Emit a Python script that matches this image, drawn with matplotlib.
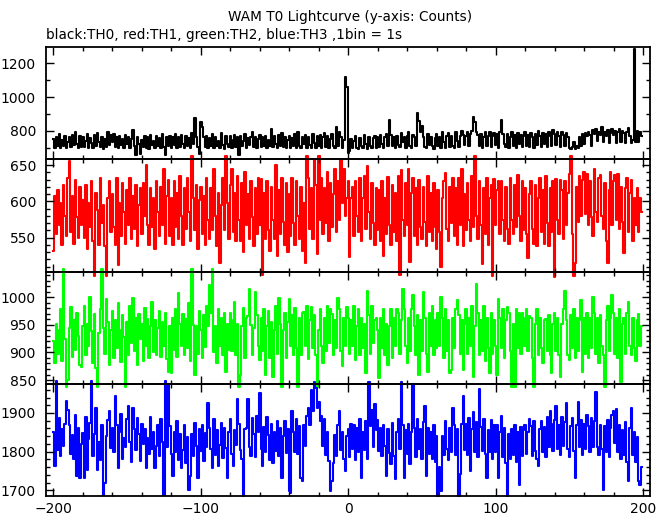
import numpy as np
import matplotlib
matplotlib.use("Agg")
import matplotlib.pyplot as plt
from matplotlib.ticker import MultipleLocator

title = "WAM T0 Lightcurve (y-axis: Counts)"
subtitle = "black:TH0, red:TH1, green:TH2, blue:TH3 ,1bin = 1s"

th0 = [
    750, 700, 765, 712, 778, 695, 742, 710, 770, 700, 735, 760, 705, 775, 715, 790, 720, 698, 768, 705,
    760, 705, 740, 780, 698, 755, 725, 700, 772, 710, 785, 730, 702, 765, 690, 748, 705, 790, 715, 772,
    730, 778, 705, 760, 700, 770, 715, 750, 698, 775, 720, 760, 700, 748, 804, 710, 655, 765, 720, 660,
    745, 705, 770, 700, 760, 690, 775, 715, 740, 700, 768, 710, 755, 698, 780, 705, 658, 760, 712, 770,
    700, 765, 715, 780, 698, 760, 705, 775, 720, 700, 768, 712, 755, 700, 785, 720, 873, 760, 705, 660,
    853, 820, 765, 705, 770, 700, 758, 712, 780, 695, 765, 710, 740, 700, 785, 715, 690, 770, 720, 705,
    768, 700, 745, 775, 705, 760, 655, 770, 712, 740, 780, 700, 755, 718, 765, 790, 705, 760, 700, 750,
    775, 705, 760, 710, 770, 700, 745, 712, 808, 705, 768, 720, 700, 775, 712, 785, 705, 760, 700, 745,
    770, 700, 755, 712, 780, 700, 790, 712, 698, 765, 720, 775, 700, 760, 715, 700, 780, 725, 700, 768,
    710, 775, 700, 760, 785, 705, 770, 698, 750, 780, 712, 700, 820, 712, 790, 760, 700, 745, 1120, 1060,
    665, 680, 750, 700, 738, 770, 695, 690, 755, 712, 700, 775, 720, 690, 760, 712, 700, 755, 770, 700,
    762, 705, 775, 720, 700, 760, 780, 712, 863, 775, 710, 765, 700, 770, 718, 705, 785, 730, 760, 700,
    770, 790, 712, 700, 775, 760, 712, 903, 860, 790, 828, 760, 705, 700, 780, 718, 760, 712, 690, 755,
    780, 710, 765, 700, 790, 730, 700, 768, 785, 705, 770, 712, 700, 790, 740, 705, 770, 800, 775, 715,
    770, 795, 712, 780, 800, 880, 850, 790, 775, 712, 780, 695, 765, 790, 712, 770, 795, 705, 770, 785,
    715, 780, 700, 790, 863, 780, 720, 705, 780, 700, 765, 790, 712, 775, 700, 785, 720, 775, 705, 770,
    790, 712, 775, 705, 785, 765, 700, 780, 715, 800, 770, 705, 785, 720, 780, 705, 790, 768, 712, 805,
    780, 715, 790, 770, 705, 795, 772, 710, 785, 765, 700, 690, 705, 730, 690, 712, 700, 765, 710, 780,
    720, 785, 770, 795, 775, 712, 805, 780, 810, 740, 795, 775, 820, 730, 790, 770, 805, 725, 785, 810,
    775, 800, 725, 795, 810, 735, 800, 785, 728, 790, 815, 770, 725, 745, 1283, 735, 800, 730, 790, 770,
]

th1 = [
    531, 607, 555, 615, 568, 598, 540, 622, 580, 552, 632, 656, 558, 608, 542, 630, 578, 550, 620, 568,
    602, 550, 622, 535, 598, 565, 628, 545, 497, 612, 588, 540, 632, 570, 595, 538, 497, 605, 628, 558,
    610, 565, 540, 632, 513, 598, 552, 625, 585, 542, 615, 568, 632, 548, 608, 562, 622, 538, 595, 618,
    555, 625, 580, 650, 568, 540, 618, 565, 605, 535, 628, 585, 552, 620, 568, 645, 542, 608, 630, 552,
    605, 540, 628, 565, 612, 548, 635, 580, 540, 618, 562, 632, 585, 545, 662, 605, 560, 622, 535, 602,
    620, 555, 608, 540, 632, 575, 548, 618, 560, 645, 580, 538, 612, 515, 595, 632, 560, 662, 598, 548,
    622, 645, 558, 612, 545, 635, 575, 546, 625, 530, 640, 568, 610, 548, 628, 578, 538, 618, 555, 632,
    568, 631, 498, 612, 548, 628, 560, 532, 620, 575, 548, 650, 525, 615, 555, 632, 572, 540, 625, 530,
    610, 552, 632, 570, 540, 628, 580, 548, 620, 532, 598, 515, 662, 632, 562, 618, 548, 657, 622, 527,
    662, 575, 632, 555, 618, 570, 640, 545, 625, 565, 610, 645, 558, 628, 575, 657, 598, 645, 580, 605,
    628, 523, 605, 620, 552, 628, 580, 558, 632, 545, 605, 635, 562, 648, 585, 548, 625, 570, 540, 618,
    560, 615, 545, 628, 525, 605, 555, 633, 568, 540, 622, 558, 612, 545, 635, 498, 643, 575, 552, 625,
    568, 645, 516, 612, 632, 552, 618, 540, 630, 565, 548, 620, 572, 538, 635, 558, 612, 545, 625, 565,
    535, 615, 558, 510, 605, 628, 639, 562, 545, 620, 570, 632, 552, 618, 540, 632, 568, 644, 538, 610,
    560, 625, 575, 545, 635, 565, 662, 580, 548, 628, 568, 514, 618, 555, 632, 540, 605, 622, 497, 631,
    568, 615, 628, 555, 628, 575, 545, 620, 562, 542, 632, 575, 555, 622, 565, 636, 580, 545, 628, 560,
    618, 555, 522, 610, 628, 562, 542, 622, 538, 605, 632, 558, 615, 542, 635, 570, 538, 618, 558, 628,
    496, 631, 575, 555, 630, 615, 548, 628, 568, 612, 638, 662, 555, 497, 515, 620, 572, 635, 580, 630,
    641, 582, 638, 568, 628, 578, 552, 645, 585, 572, 632, 636, 580, 562, 625, 545, 515, 615, 640, 568,
    628, 636, 575, 638, 562, 620, 572, 529, 618, 632, 558, 612, 630, 545, 605, 568, 618, 558, 605, 585,
]

th2 = [
    920, 880, 952, 898, 940, 978, 885, 1052, 925, 838, 850, 945, 982, 892, 958, 905, 972, 930, 877, 874,
    948, 985, 895, 952, 912, 1000, 938, 880, 970, 871, 838, 935, 978, 1052, 945, 898, 996, 955, 877, 940,
    975, 890, 958, 908, 990, 940, 882, 968, 928, 838, 955, 895, 985, 918, 998, 902, 962, 878, 970, 925,
    952, 885, 980, 912, 960, 890, 948, 992, 900, 958, 895, 945, 975, 892, 955, 912, 972, 888, 865, 948,
    862, 962, 905, 978, 892, 1007, 952, 912, 970, 895, 960, 908, 990, 885, 1052, 950, 860, 948, 898, 975,
    940, 890, 968, 910, 985, 948, 1022, 972, 1052, 900, 948, 880, 978, 912, 962, 895, 972, 865, 952, 905,
    972, 902, 958, 992, 895, 952, 838, 859, 948, 980, 890, 962, 966, 1015, 950, 895, 945, 1010, 968, 912,
    886, 962, 902, 978, 859, 948, 975, 890, 955, 856, 940, 985, 898, 998, 952, 838, 940, 972, 890, 955,
    997, 912, 968, 895, 980, 908, 838, 962, 895, 972, 974, 912, 985, 888, 958, 983, 908, 968, 895, 838,
    940, 978, 912, 880, 962, 902, 985, 918, 978, 970, 895, 958, 908, 998, 978, 902, 875, 962, 912, 983,
    962, 898, 958, 912, 985, 886, 948, 978, 895, 962, 908, 952, 862, 1011, 968, 898, 985, 918, 958, 962,
    940, 853, 962, 908, 978, 895, 952, 877, 948, 978, 890, 962, 912, 978, 972, 898, 958, 1015, 978, 912,
    880, 962, 902, 978, 1004, 948, 895, 968, 859, 958, 902, 1010, 962, 898, 865, 972, 912, 985, 895, 958,
    908, 972, 912, 1000, 962, 890, 978, 902, 958, 862, 868, 962, 908, 978, 995, 968, 898, 958, 868, 952,
    978, 898, 962, 912, 985, 856, 948, 1024, 972, 895, 958, 902, 985, 885, 962, 908, 862, 972, 898, 958,
    912, 859, 997, 962, 908, 978, 890, 958, 982, 972, 902, 838, 952, 838, 979, 908, 972, 898, 972, 962,
    912, 978, 902, 966, 962, 890, 838, 952, 978, 895, 962, 908, 880, 958, 960, 902, 968, 895, 862, 952,
    972, 902, 962, 895, 856, 952, 978, 1012, 958, 895, 886, 968, 908, 978, 890, 962, 902, 958, 995, 865,
    962, 898, 972, 890, 962, 908, 1001, 972, 898, 962, 880, 968, 912, 895, 838, 958, 985, 902, 962, 1004,
    972, 898, 962, 890, 978, 847, 952, 962, 898, 972, 992, 912, 895, 962, 908, 885, 958, 969, 911, 948,
]

th3 = [
    1850, 1762, 1982, 1805, 1887, 1789, 1858, 1815, 1872, 1930, 1909, 1868, 1795, 1842, 1780, 1895, 1736, 1862, 1732, 1820,
    1848, 1732, 1890, 1753, 1832, 1875, 1982, 1790, 1845, 1912, 1753, 1826, 1778, 1868, 1689, 1719, 1840, 1882, 1904, 1810,
    1862, 1798, 1943, 1870, 1758, 1851, 1898, 1782, 1836, 1812, 1884, 1917, 1825, 1772, 1913, 1858, 1805, 1888, 1846, 1775,
    1872, 1820, 1858, 1758, 1836, 1795, 1890, 1808, 1852, 1758, 1815, 1870, 1788, 1885, 1824, 1689, 1982, 1812, 1975, 1866,
    1795, 1736, 1852, 1800, 1880, 1778, 1845, 1758, 1805, 1868, 1770, 1838, 1702, 1736, 1846, 1790, 1875, 1815, 1732, 1858,
    1802, 1870, 1775, 1848, 1812, 1926, 1862, 1806, 1758, 1884, 1792, 1855, 1762, 1818, 1875, 1784, 1860, 1810, 1732, 1852,
    1885, 1795, 1762, 1856, 1818, 1935, 1872, 1805, 1780, 1684, 1858, 1862, 1935, 1812, 1790, 1888, 1845, 1786, 1892, 1850,
    1952, 1808, 1762, 1865, 1798, 1890, 1842, 1778, 1872, 1771, 1850, 1802, 1880, 1788, 1862, 1732, 1840, 1878, 1796, 1858,
    1697, 1693, 1904, 1852, 1800, 1885, 1795, 1866, 1732, 1723, 1868, 1815, 1892, 1914, 1870, 1960, 1905, 1980, 1965, 1912,
    1928, 1879, 1892, 1815, 1885, 1792, 1850, 1775, 1697, 1723, 1770, 1842, 1790, 1868, 1904, 1805, 1852, 1782, 1749, 1840,
    1858, 1785, 1872, 1806, 1869, 1778, 1862, 1798, 1885, 1732, 1852, 1805, 1878, 1782, 1980, 1866, 1909, 1812, 1922, 1855,
    1882, 1802, 1862, 1788, 1870, 1815, 1736, 1858, 1796, 1767, 1875, 1790, 1728, 1852, 1885, 1808, 1980, 1870, 1732, 1856,
    1795, 1872, 1767, 1850, 1975, 1862, 1786, 1885, 1808, 1858, 1780, 1876, 1917, 1736, 1862, 1795, 1850, 1782, 1868, 1772,
    1840, 1684, 1760, 1697, 1840, 1792, 1878, 1808, 1778, 1862, 1800, 1913, 1870, 1792, 1858, 1684, 1741, 1872, 1944, 1805,
    1872, 1792, 1888, 1750, 1858, 1902, 1800, 1876, 1785, 1962, 1865, 1802, 1885, 1795, 1732, 1856, 1798, 1882, 1780, 1868,
    1798, 1868, 1732, 1852, 1891, 1786, 1862, 1770, 1684, 1845, 1780, 1858, 1792, 1870, 1772, 1852, 1715, 1865, 1790, 1856,
    1870, 1795, 1852, 1884, 1866, 1788, 1880, 1802, 1780, 1762, 1858, 1878, 1798, 1865, 1786, 1890, 1812, 1904, 1872, 1802,
    1882, 1917, 1808, 1870, 1792, 1890, 1815, 1876, 1926, 1808, 1786, 1866, 1888, 1802, 1732, 1870, 1929, 1812, 1882, 1792,
    1872, 1808, 1896, 1866, 1798, 1888, 1812, 1880, 1954, 1812, 1792, 1870, 1808, 1702, 1866, 1798, 1882, 1786, 1860, 1895,
    1904, 1822, 1911, 1798, 1868, 1782, 1856, 1792, 1876, 1772, 1724, 1860, 1914, 1792, 1852, 1772, 1838, 1724, 1715, 1760,
]

series = [th0, th1, th2, th3]
colors = ["black", "#ff0000", "#00ff00", "#0000ff"]
ylims = [(632, 1295), (503.2, 658.3), (842.8, 1046.4), (1684.5, 1975)]
ymajor = [200, 50, 50, 100]
yminor = [100, 10, 10, 20]

W, H = 669, 515
fig = plt.figure(figsize=(W / 100, H / 100), dpi=100)
left, right = 45.7, 649.5
edges = [47.3, 159.0, 271.7, 384.0, 496.3]

for k, vals in enumerate(series):
    top, bot = edges[k], edges[k + 1]
    ax = fig.add_axes([left / W, 1 - bot / H, (right - left) / W, (bot - top) / H])
    ax.patch.set_visible(False)
    t = np.arange(-200, -200 + len(vals))
    ax.plot(t, vals, drawstyle="steps-mid", color=colors[k], lw=1.5,
            clip_on=False, zorder=1)
    ax.set_xlim(-205.2, 204.3)
    ax.set_ylim(*ylims[k])
    ax.xaxis.set_major_locator(MultipleLocator(100))
    ax.xaxis.set_minor_locator(MultipleLocator(20))
    ax.yaxis.set_major_locator(MultipleLocator(ymajor[k]))
    ax.yaxis.set_minor_locator(MultipleLocator(yminor[k]))
    ax.tick_params(which="both", direction="in", top=True, right=True,
                   width=1.0, labelsize=10, colors="black")
    ax.tick_params(which="major", length=5.5)
    ax.tick_params(which="minor", length=2.8)
    ax.tick_params(axis="y", pad=7)
    ax.tick_params(axis="x", pad=4)
    for s in ax.spines.values():
        s.set_linewidth(1.3)
        s.set_zorder(3)
    if k < 3:
        ax.tick_params(labelbottom=False)

fig.text(350 / W, 1 - 17 / H, title, ha="center", va="center", fontsize=9.8)
fig.text(46 / W, 1 - 35 / H, subtitle, ha="left", va="center", fontsize=9.8)

fig.savefig("out.png", dpi=100)
